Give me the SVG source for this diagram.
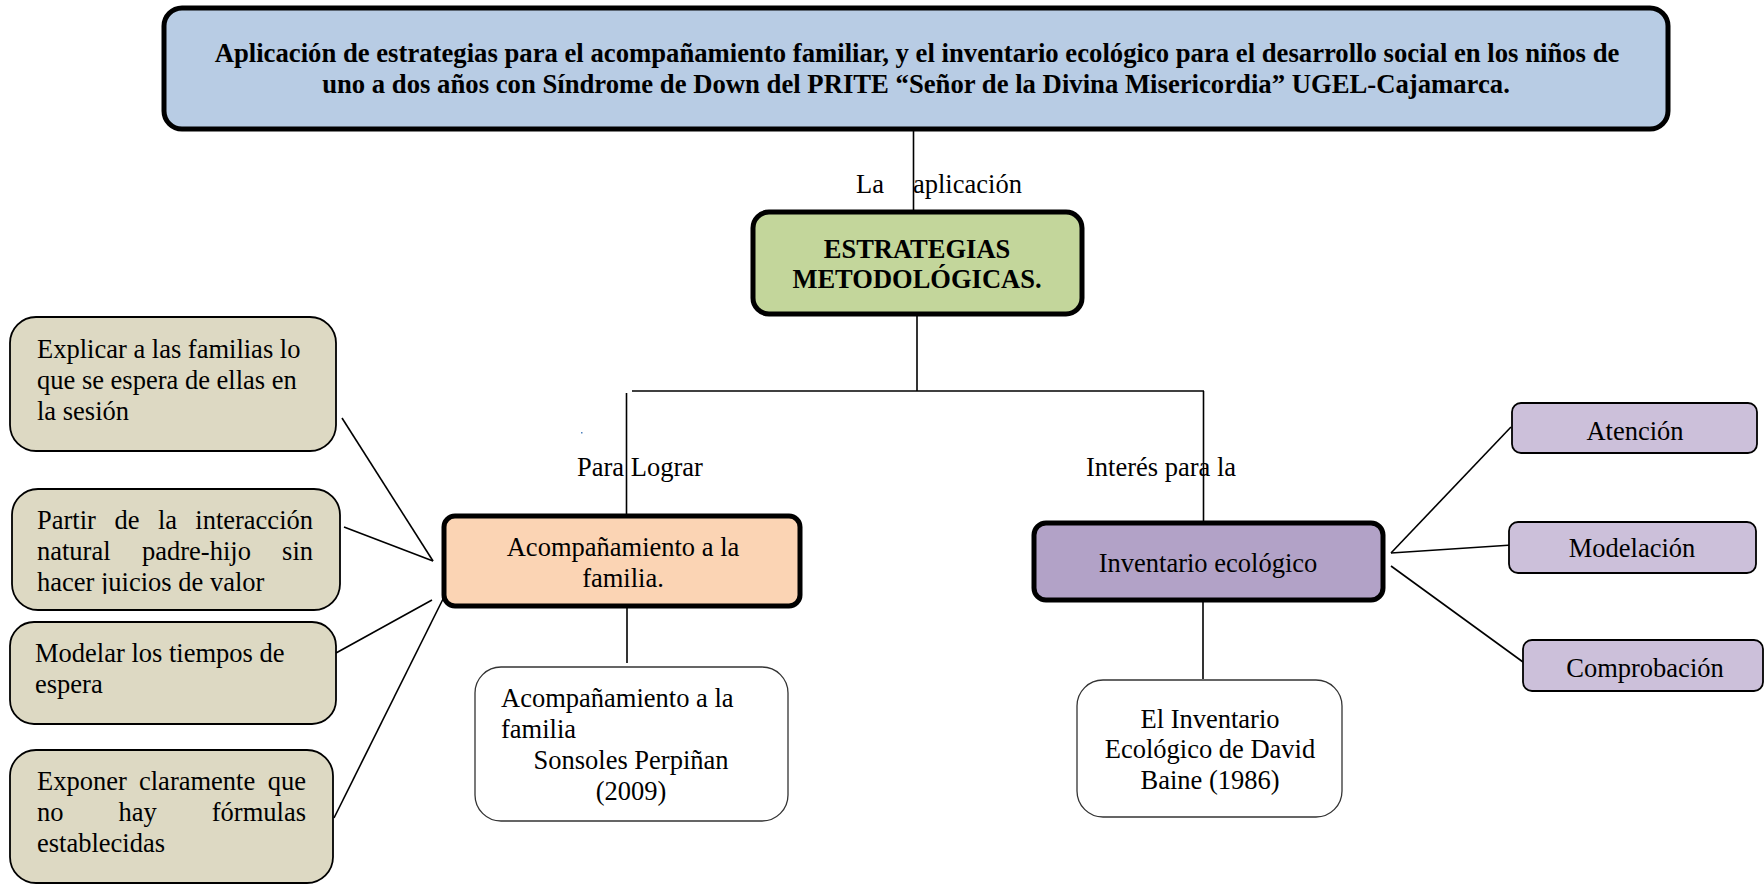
<svg xmlns="http://www.w3.org/2000/svg" width="1764" height="885" viewBox="0 0 1764 885">
<style>
text{font-family:"Liberation Serif","Times New Roman",serif;font-size:26.5px;fill:#000}
.b{font-weight:bold}
.t{font-size:26.7px}
.m{text-anchor:middle}
.e{text-anchor:end}
.thick{stroke:#000;stroke-width:5}
.thin{stroke:#000;stroke-width:1.8}
.wb{fill:#fff;stroke:#333;stroke-width:1.3}
.c{stroke:#000;stroke-width:1.6;fill:none}
</style>
<defs>
<clipPath id="clipPartir"><rect x="0" y="480" width="350" height="114"/></clipPath>
<clipPath id="clipComp"><rect x="1520" y="630" width="244" height="53"/></clipPath>
</defs>
<rect width="1764" height="885" fill="#fff"/>

<g id="connectors">
<line class="c" x1="913.5" y1="129" x2="913.5" y2="212"/>
<line class="c" x1="917" y1="314" x2="917" y2="391"/>
<line class="c" x1="632" y1="391" x2="1204" y2="391"/>
<line class="c" x1="626.5" y1="393" x2="626.5" y2="528"/>
<line class="c" x1="1203.5" y1="391" x2="1203.5" y2="526"/>
<line class="c" x1="627" y1="607" x2="627" y2="663"/>
<line class="c" x1="1203" y1="600" x2="1203" y2="679"/>
<line class="c" x1="342" y1="418" x2="433" y2="561"/>
<line class="c" x1="344" y1="527" x2="433" y2="561"/>
<line class="c" x1="336" y1="653" x2="432" y2="600"/>
<line class="c" x1="334" y1="818" x2="444" y2="597"/>
<line class="c" x1="1391" y1="553" x2="1511" y2="427"/>
<line class="c" x1="1391" y1="553" x2="1512" y2="545"/>
<line class="c" x1="1391" y1="566" x2="1523" y2="662"/>
<rect x="581" y="432" width="1.5" height="1.5" fill="#4f81bd"/>
<text x="856" y="193">La</text>
<text x="913" y="193">aplicación</text>
<text x="577" y="476">Para Lograr</text>
<text x="1086" y="476">Interés para la</text>
</g>

<g id="title">
<rect x="164" y="8" width="1504" height="121" rx="18" fill="#b8cce4" class="thick"/>
<text class="b m t" x="917" y="62">Aplicación de estrategias para el acompañamiento familiar, y el inventario ecológico para el desarrollo social en los niños de</text>
<text class="b m t" x="916" y="93">uno a dos años con Síndrome de Down del PRITE “Señor de la Divina Misericordia” UGEL-Cajamarca.</text>
</g>

<g id="estrategias">
<rect x="753" y="212" width="329" height="102" rx="16" fill="#c3d69b" class="thick"/>
<text class="b m" x="917" y="258">ESTRATEGIAS</text>
<text class="b m" x="917" y="288">METODOLÓGICAS.</text>
</g>

<g id="acompanamiento">
<rect x="444" y="516" width="356" height="90" rx="11" fill="#fbd4b4" class="thick"/>
<text class="m" x="623" y="556">Acompañamiento a la</text>
<text class="m" x="623" y="587">familia.</text>
</g>

<g id="inventario">
<rect x="1034" y="523" width="349" height="77" rx="12" fill="#b2a2c7" class="thick"/>
<text class="m" x="1208" y="572">Inventario ecológico</text>
</g>

<g id="perpinan">
<rect x="475" y="667" width="313" height="154" rx="26" class="wb"/>
<text x="501" y="707">Acompañamiento a la</text>
<text x="501" y="738">familia</text>
<text class="m" x="631" y="769">Sonsoles Perpiñan</text>
<text class="m" x="631" y="800">(2009)</text>
</g>

<g id="baine">
<rect x="1077" y="680" width="265" height="137" rx="26" class="wb"/>
<text class="m" x="1210" y="728">El Inventario</text>
<text class="m" x="1210" y="758">Ecológico de David</text>
<text class="m" x="1210" y="789">Baine (1986)</text>
</g>

<g id="explicar">
<rect x="10" y="317" width="326" height="134" rx="26" fill="#ddd9c3" class="thin"/>
<text x="37" y="358">Explicar a las familias lo</text>
<text x="37" y="389">que se espera de ellas en</text>
<text x="37" y="420">la sesión</text>
</g>

<g id="partir">
<rect x="12" y="489" width="328" height="121" rx="26" fill="#ddd9c3" class="thin"/>
<g clip-path="url(#clipPartir)">
<text x="37" y="529">Partir</text>
<text x="114.5" y="529">de</text>
<text x="158" y="529">la</text>
<text class="e" x="313" y="529">interacción</text>
<text x="37" y="560">natural</text>
<text x="142" y="560">padre-hijo</text>
<text class="e" x="313" y="560">sin</text>
<text x="37" y="591">hacer juicios de valor</text>
</g>
</g>

<g id="modelar">
<rect x="10" y="622" width="326" height="102" rx="24" fill="#ddd9c3" class="thin"/>
<text x="35" y="662">Modelar los tiempos de</text>
<text x="35" y="693">espera</text>
</g>

<g id="exponer">
<rect x="10" y="750" width="323" height="133" rx="26" fill="#ddd9c3" class="thin"/>
<text x="37" y="790">Exponer</text>
<text x="139" y="790">claramente</text>
<text class="e" x="306" y="790">que</text>
<text x="37" y="821">no</text>
<text x="118.5" y="821">hay</text>
<text class="e" x="306" y="821">fórmulas</text>
<text x="37" y="852">establecidas</text>
</g>

<g id="atencion">
<rect x="1512" y="403" width="245" height="50" rx="9" fill="#ccc0da" class="thin"/>
<text class="m" x="1635" y="440">Atención</text>
</g>

<g id="modelacion">
<rect x="1509" y="522" width="247" height="51" rx="9" fill="#ccc0da" class="thin"/>
<text class="m" x="1632" y="557">Modelación</text>
</g>

<g id="comprobacion">
<rect x="1523" y="640" width="240" height="51" rx="9" fill="#ccc0da" class="thin"/>
<text class="m" x="1645" y="677" clip-path="url(#clipComp)">Comprobación</text>
</g>
</svg>
